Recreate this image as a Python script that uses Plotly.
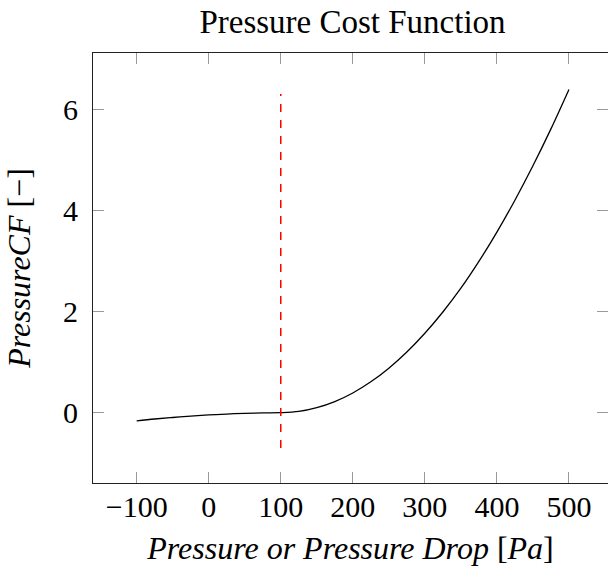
import plotly.graph_objects as go

# Data
pressure = [-100, -75, -50, -25, 0, 25, 50, 75, 100, 125, 150, 175, 200, 225, 250,
            275, 300, 325, 350, 375, 400, 425, 450, 475, 500]
cost = [-0.16, -0.125, -0.095, -0.068, -0.045, -0.027, -0.013, -0.004, 0.0,
        0.025, 0.10, 0.22, 0.39, 0.61, 0.88, 1.20, 1.57, 1.99, 2.46, 2.99,
        3.57, 4.20, 4.88, 5.61, 6.39]
threshold_x = [100, 100]
threshold_y = [-0.7, 6.3]

x_ticks = [-100, 0, 100, 200, 300, 400, 500]
y_ticks = [0, 2, 4, 6]

FONT = "Liberation Serif, DejaVu Serif, serif"

fig = go.Figure()
fig.add_trace(go.Scatter(x=pressure, y=cost, mode="lines",
                         line=dict(color="black", width=1.3, shape="spline"),
                         showlegend=False, hoverinfo="skip"))
fig.add_trace(go.Scatter(x=threshold_x, y=threshold_y, mode="lines",
                         line=dict(color="red", width=1.5, dash="8px,8px"),
                         showlegend=False, hoverinfo="skip"))

yr = [-1.39, 7.11]
fig.update_layout(
    width=608, height=575,
    margin=dict(l=93, r=0, t=53, b=92),
    paper_bgcolor="white", plot_bgcolor="white",
    font=dict(family=FONT, size=30, color="black"),
    title=dict(text="Pressure Cost Function", x=352.5 / 608, xref="container",
               xanchor="center", y=1 - 21 / 575, yref="container", yanchor="middle",
               font=dict(family=FONT, size=33, color="black")),
    xaxis=dict(range=[-160.6, 554.2], tickvals=x_ticks, ticks="inside", ticklen=11,
               tickcolor="#999", tickwidth=1, showline=True, linecolor="#222",
               linewidth=1.2, mirror="ticks", showgrid=False, zeroline=False,
               tickfont=dict(family=FONT, size=30), ticklabelstandoff=-3,
               title=dict(text="<i>Pressure or Pressure Drop </i>[<i>Pa</i>]",
                          font=dict(family=FONT, size=32, color="black"), standoff=14)),
    yaxis=dict(range=yr, tickvals=y_ticks, ticks="inside", ticklen=11,
               tickcolor="#999", tickwidth=1, showline=True, linecolor="#222",
               linewidth=1.2, mirror=False, showgrid=False, zeroline=False,
               tickfont=dict(family=FONT, size=30), ticklabelstandoff=8,
               title=dict(text="<i>PressureCF</i> [−]",
                          font=dict(family=FONT, size=32, color="black"), standoff=22)),
    yaxis2=dict(range=yr, overlaying="y", side="right", tickvals=y_ticks,
                ticks="inside", ticklen=11, tickcolor="#999", tickwidth=1,
                showline=False, showticklabels=False, showgrid=False, zeroline=False),
)
fig.add_trace(go.Scatter(x=[None], y=[None], yaxis="y2", showlegend=False, hoverinfo="skip"))

fig.write_html("out.html")
